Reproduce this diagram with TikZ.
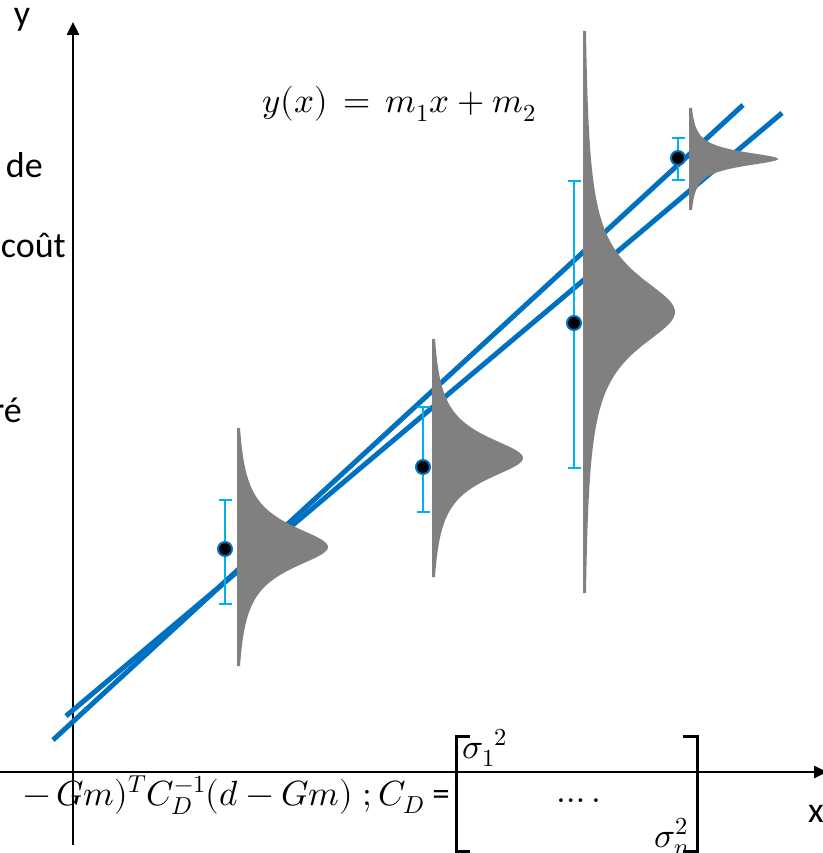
\documentclass[tikz,border=0pt]{standalone}
\usepackage{fontspec}
\usepackage{unicode-math}
\setmainfont{Carlito}
\usetikzlibrary{arrows.meta}
\definecolor{LineBlue}{HTML}{0070C0}
\definecolor{BarCyan}{HTML}{00B0F0}
\definecolor{BellGray}{HTML}{808080}
% stem x, centre y, height, width, half span
\newcommand{\bellcurve}[5]{%
  \fill[BellGray] (#1,#2-#5) -- plot[domain=-#5:#5,samples=150,variable=\t]
    ({#1+3+(#3-3)*(1/(1+(\t/#4)^2)-1/(1+(#5/#4)^2))/(1-1/(1+(#5/#4)^2))},{#2+\t})
    -- (#1,#2+#5) -- cycle;}
\tikzset{
  axis/.style={line width=2.5,-{Triangle[length=13,width=12]}},
  fitline/.style={line width=5,color=LineBlue},
  errbar/.style={line width=2.2,color=BarCyan},
  datapt/.style={circle,fill=black,draw=LineBlue,line width=2,inner sep=0,minimum size=14},
  lbl/.style={inner sep=0,font=\fontsize{36}{42}\selectfont},
  formula/.style={inner sep=0,font=\fontsize{35}{42}\selectfont},
}

\begin{document}
\begin{tikzpicture}[x=1pt,y=-1pt]
  \useasboundingbox (0,0) rectangle (822,853);
  % axes
  \draw[axis] (0,772) -- (827,772);
  \draw[axis] (73,845) -- (73,22);
  \node[lbl,anchor=base] (ylbl) at (22,26) {y};
  \node[lbl,anchor=base west] (xlbl) at (808,822) {x};
  \node[lbl,anchor=east] (de) at (43,165) {de};
  \node[lbl,anchor=east] (cout) at (66,245) {coût};
  \node[lbl,anchor=east] (re) at (22,410) {ré};
  % fitted lines
  \coordinate (fitA1) at (66,716);
  \coordinate (fitA2) at (782,113);
  \coordinate (fitB1) at (53,740);
  \coordinate (fitB2) at (743,105);
  \draw[fitline] (fitA1) -- (fitA2);
  \draw[fitline] (fitB1) -- (fitB2);
  % measurements with their spread
  \foreach \px/\py/\bt/\bb/\sx/\sy/\sa/\sw/\sh [count=\i] in
      {225/549/500/604/237/547/91/27/119,
       423/467/407/512/432/458/91/27/119,
       574/323/181/468/583/312/92/45/281,
       678/158/138/180/689/159/89/9/51} {
    \bellcurve{\sx}{\sy}{\sa}{\sw}{\sh}
    \draw[errbar] (\px,\bt) -- (\px,\bb);
    \draw[errbar] (\px-6.5,\bt) -- (\px+6.5,\bt);
    \draw[errbar] (\px-6.5,\bb) -- (\px+6.5,\bb);
    \node[datapt] (pt\i) at (\px,\py) {};
  }
  \node[formula,anchor=base] (model) at (399,113) {$y(x)\,=\,m_1x+m_2$};
  % cost function and covariance
  \node[formula,anchor=base east] (cost) at (450,805) {$-\,Gm)^{T}C_D^{-1}(d-Gm)\;;C_D$ =};
  \draw[line width=3] (470,736) -- (456,736) -- (456,851) -- (470,851);
  \draw[line width=3] (683,736) -- (697,736) -- (697,851) -- (683,851);
  \node[formula,anchor=base west] (s1) at (462,758) {$\sigma_1{}^2$};
  \node[formula,anchor=base west] (dots) at (556,802) {$\dots.$};
  \node[formula,anchor=base east] (sn) at (690,847) {$\sigma_n^2$};
\end{tikzpicture}
\end{document}
